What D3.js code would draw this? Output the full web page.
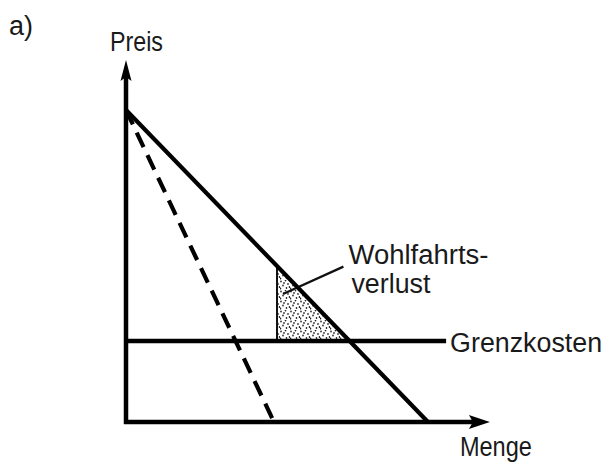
<!DOCTYPE html>
<html>
<head>
<meta charset="utf-8">
<script src="https://cdn.jsdelivr.net/npm/d3@7"></script>
<style>
  html, body { margin: 0; padding: 0; background: #fff; }
  svg { display: block; }
  text { font-family: "Liberation Sans", Arial, Helvetica, sans-serif; fill: #1a1a1a; }
</style>
</head>
<body>
<svg id="chart" width="611" height="462"></svg>
<script>
// Monopoly diagram: demand, marginal revenue, marginal cost and the deadweight loss.
const axisLabels = { price: "Preis", quantity: "Menge" };
const panelLabel = "a)";
const costLabel = "Grenzkosten";
const lossLabel = ["Wohlfahrts-", "verlust"];

// Demand curve (price falls from 10 to 0 as quantity rises to 10)
const demand = [[0, 10], [10, 0]];
// Marginal revenue curve (dashed)
const marginalRevenue = [[0, 10], [4.9, 0]];
// Constant marginal cost
const marginalCost = 2.6;
const marginalCostEnd = 10.6;
// Quantity where the welfare-loss triangle starts
const lossQuantity = 5.0;
// Leader line from the triangle to its label
const leader = [[5.2, 4.1], [7.2, 4.98]];
// Axis extents
const axisMax = { quantity: 12.05, price: 11.6 };

const svg = d3.select("#chart");
const x = d3.scaleLinear().domain([0, 10]).range([126, 428]);
const y = d3.scaleLinear().domain([0, 10]).range([422, 110]);
const line = d3.line().x(d => x(d[0])).y(d => y(d[1]));

// Price on the demand curve
const demandPrice = q => {
  const [[q0, p0], [q1, p1]] = demand;
  return p0 + (p1 - p0) * (q - q0) / (q1 - q0);
};
const demandQuantity = p => {
  const [[q0, p0], [q1, p1]] = demand;
  return q0 + (q1 - q0) * (p - p0) / (p1 - p0);
};

// Stipple texture for the welfare loss
const defs = svg.append("defs");
const pat = defs.append("pattern")
  .attr("id", "stipple").attr("patternUnits", "userSpaceOnUse")
  .attr("width", 10).attr("height", 10);
[[1, 1.5], [5.5, 0.5], [8, 4], [3, 5.5], [6.5, 8], [0.5, 8.5], [9.5, 7], [4, 3]]
  .forEach(([cx, cy]) => pat.append("ellipse")
    .attr("cx", cx).attr("cy", cy).attr("rx", 0.8).attr("ry", 1.1).attr("fill", "#222"));

// Welfare-loss triangle
const qComp = demandQuantity(marginalCost);
const tri = [[lossQuantity, demandPrice(lossQuantity)], [lossQuantity, marginalCost], [qComp, marginalCost]];
svg.append("path")
  .attr("d", line(tri) + "Z")
  .attr("fill", "url(#stipple)");
svg.append("path")
  .attr("d", line([tri[0], tri[1]]))
  .attr("stroke", "#111").attr("stroke-width", 2).attr("fill", "none");

// Leader line
svg.append("path")
  .attr("d", line(leader))
  .attr("stroke", "#111").attr("stroke-width", 2.2).attr("fill", "none");

// Marginal cost line
svg.append("path")
  .attr("d", line([[0, marginalCost], [marginalCostEnd, marginalCost]]))
  .attr("stroke", "#000").attr("stroke-width", 4.5).attr("fill", "none");

// Marginal revenue (dashed)
svg.append("path")
  .attr("d", line(marginalRevenue))
  .attr("stroke", "#000").attr("stroke-width", 4.2)
  .attr("stroke-dasharray", "16 9").attr("fill", "none");

// Demand
svg.append("path")
  .attr("d", line(demand))
  .attr("stroke", "#000").attr("stroke-width", 4.2).attr("fill", "none");

// Axes with arrowheads
const ax = svg.append("g").attr("fill", "none").attr("stroke", "#000").attr("stroke-width", 4.5);
ax.append("path").attr("d", `M${x(0)},${y(0) + 2}V${y(axisMax.price) + 16}`);
ax.append("path").attr("d", `M${x(0) - 2},${y(0)}H${x(axisMax.quantity) - 16}`);
svg.append("path")
  .attr("d", `M${x(0)},${y(axisMax.price)}L${x(0) + 5.5},${y(axisMax.price) + 21}L${x(0)},${y(axisMax.price) + 17}L${x(0) - 5.5},${y(axisMax.price) + 21}Z`)
  .attr("fill", "#000");
svg.append("path")
  .attr("d", `M${x(axisMax.quantity)},${y(0)}L${x(axisMax.quantity) - 21},${y(0) - 7}L${x(axisMax.quantity) - 17},${y(0)}L${x(axisMax.quantity) - 21},${y(0) + 7}Z`)
  .attr("fill", "#000");

// Labels
const label = (t, px, py, size, len) => svg.append("text")
  .attr("x", px).attr("y", py).attr("font-size", size)
  .attr("textLength", len).attr("lengthAdjust", "spacingAndGlyphs").text(t);

label(axisLabels.price, x(0) - 16, y(axisMax.price) - 9, 27, 53);
label(axisLabels.quantity, x(axisMax.quantity) - 30, y(0) + 34, 27, 72);
label(costLabel, x(marginalCostEnd) + 4, y(marginalCost) + 11, 27, 152);
label(lossLabel[0], x(leader[1][0]) + 5, y(leader[1][1]) - 3, 27, 140);
label(lossLabel[1], x(leader[1][0]) + 8, y(leader[1][1]) + 26, 27, 79);

svg.append("text")
  .attr("x", 9).attr("y", 35)
  .attr("font-family", "'Open Sans', 'Noto Sans', sans-serif")
  .attr("font-size", 27).attr("fill", "#333")
  .text(panelLabel);
</script>
</body>
</html>
